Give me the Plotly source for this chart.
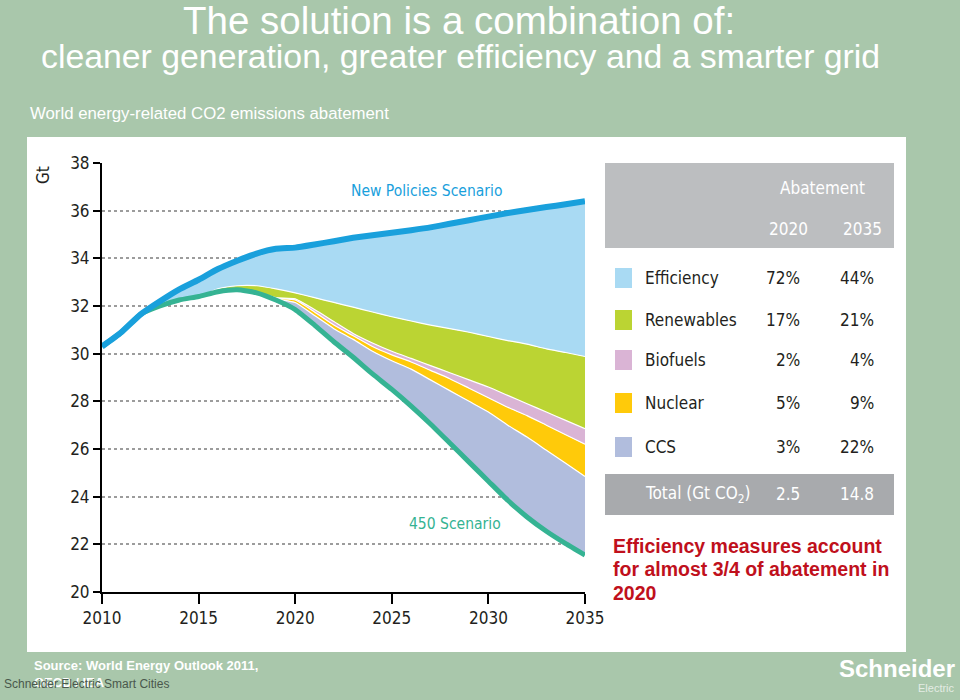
import plotly.graph_objects as go

W, H = 960, 700

# ---------------- data (Gt CO2) ----------------
years = list(range(2010, 2036))
new_policies = [30.3, 30.9, 31.65, 32.2, 32.7, 33.1, 33.55, 33.9, 34.2, 34.4, 34.45, 34.58, 34.72,
                34.86, 34.97, 35.07, 35.18, 35.3, 35.45, 35.6, 35.75, 35.9, 36.03, 36.15, 36.27, 36.4]
renewables_top = [30.3, 30.9, 31.65, 32.0, 32.25, 32.4, 32.72, 32.85, 32.85, 32.72, 32.55, 32.35, 32.15,
                  31.95, 31.75, 31.55, 31.37, 31.2, 31.05, 30.9, 30.72, 30.55, 30.4, 30.2, 30.05, 29.88]
biofuels_top = [30.3, 30.9, 31.65, 32.0, 32.25, 32.4, 32.6, 32.68, 32.58, 32.35, 32.3, 31.85, 31.35,
                30.85, 30.45, 30.1, 29.8, 29.5, 29.2, 28.9, 28.6, 28.25, 27.9, 27.55, 27.2, 26.85]
nuclear_top = [30.3, 30.9, 31.65, 32.0, 32.25, 32.4, 32.6, 32.68, 32.57, 32.32, 32.25, 31.75, 31.2,
               30.75, 30.3, 29.95, 29.65, 29.3, 28.95, 28.55, 28.15, 27.75, 27.4, 27.0, 26.6, 26.2]
ccs_top = [30.3, 30.9, 31.65, 32.0, 32.25, 32.4, 32.6, 32.68, 32.56, 32.3, 32.15, 31.6, 31.05,
           30.6, 30.1, 29.7, 29.35, 28.9, 28.45, 28.0, 27.55, 27.0, 26.5, 25.95, 25.4, 24.85]
scenario_450 = [30.3, 30.9, 31.65, 32.0, 32.25, 32.4, 32.6, 32.68, 32.55, 32.25, 31.85, 31.2, 30.5,
                29.85, 29.15, 28.5, 27.8, 27.05, 26.25, 25.45, 24.65, 23.85, 23.15, 22.55, 22.03, 21.55]

y_ticks = list(range(20, 39, 2))
x_ticks = [2010, 2015, 2020, 2025, 2030, 2035]

measures = ["Efficiency", "Renewables", "Biofuels", "Nuclear", "CCS"]
share_2020 = ["72%", "17%", "2%", "5%", "3%"]
share_2035 = ["44%", "21%", "4%", "9%", "22%"]
total_2020 = "2.5"
total_2035 = "14.8"

# ---------------- styles ----------------
BG = "#a9c7ab"
C_EFF = "#a9daf3"
C_REN = "#bbd433"
C_BIO = "#dab4d5"
C_NUC = "#ffca0a"
C_CCS = "#b1bddd"
C_NPS = "#19a0dc"
C_450 = "#35b393"
NARROW = "DejaVu Sans Condensed, Liberation Sans Narrow, sans-serif"
ARIAL = "Liberation Sans, Arial, sans-serif"
DARK = "#231f20"
SPL = dict(shape="spline", smoothing=0.5)


def px(x):
    return x / W


def py(y):
    return 1 - y / H


fig = go.Figure()

# stacked wedges between the two scenario lines
fig.add_trace(go.Scatter(x=years, y=scenario_450, mode="lines", line=dict(width=0, color=C_450, **SPL),
                         hoverinfo="skip", showlegend=False))
for vals, col in [(ccs_top, C_CCS), (nuclear_top, C_NUC), (biofuels_top, C_BIO),
                  (renewables_top, C_REN)]:
    fig.add_trace(go.Scatter(x=years, y=vals, mode="lines", fill="tonexty", fillcolor=col,
                             line=dict(width=1.2, color="white", **SPL), showlegend=False))
fig.add_trace(go.Scatter(x=years, y=new_policies, mode="lines", fill="tonexty", fillcolor=C_EFF,
                         line=dict(width=0, color=C_EFF, **SPL), showlegend=False))
# scenario lines
fig.add_trace(go.Scatter(x=years, y=scenario_450, mode="lines",
                         line=dict(width=5, color=C_450, **SPL), showlegend=False))
fig.add_trace(go.Scatter(x=years, y=new_policies, mode="lines",
                         line=dict(width=6, color=C_NPS, **SPL), showlegend=False))

shapes = [
    # white panel
    dict(type="rect", xref="paper", yref="paper", x0=px(27), x1=px(906), y0=py(652), y1=py(137),
         fillcolor="white", line=dict(width=0), layer="below"),
    # table header band
    dict(type="rect", xref="paper", yref="paper", x0=px(605), x1=px(894), y0=py(248), y1=py(163),
         fillcolor="#bcbec0", line=dict(width=0), layer="below"),
    # total band
    dict(type="rect", xref="paper", yref="paper", x0=px(605), x1=px(894), y0=py(515), y1=py(474),
         fillcolor="#a8aaad", line=dict(width=0), layer="below"),
]
row_y = [278, 320, 360, 403, 447]
sq_cols = [C_EFF, C_REN, C_BIO, C_NUC, C_CCS]
for ry, col in zip(row_y, sq_cols):
    shapes.append(dict(type="rect", xref="paper", yref="paper", x0=px(615), x1=px(632),
                       y0=py(ry + 10), y1=py(ry - 10), fillcolor=col, line=dict(width=0)))

ann = []


def text(x, y, s, size, color, family=ARIAL, xanchor="left", textangle=0):
    ann.append(dict(x=px(x), y=py(y), xref="paper", yref="paper", text=s, showarrow=False,
                    xanchor=xanchor, yanchor="middle", textangle=textangle,
                    font=dict(size=size, color=color, family=family)))


# titles
text(459, 20, "The solution is a combination of:", 38.5, "white", xanchor="center")
text(460, 56, "cleaner generation, greater efficiency and a smarter grid", 33.8, "white", xanchor="center")
text(28, 113, "World energy-related CO2 emissions abatement", 16.8, "white")

# chart labels
text(43, 175, "Gt", 17, DARK, NARROW, xanchor="center", textangle=-90)
text(426, 191, "New Policies Scenario", 15.5, C_NPS, NARROW, xanchor="center")
text(455, 524, "450 Scenario", 15.5, C_450, NARROW, xanchor="center")

# table
text(822, 188, "Abatement", 17, "white", NARROW, xanchor="center")
text(788, 229, "2020", 17, "white", NARROW, xanchor="center")
text(862, 229, "2035", 17, "white", NARROW, xanchor="center")
for ry, m, a, b in zip(row_y, measures, share_2020, share_2035):
    text(643, ry, m, 17, DARK, NARROW)
    text(802, ry, a, 17, DARK, NARROW, xanchor="right")
    text(876, ry, b, 17, DARK, NARROW, xanchor="right")
text(643, 494, "Total (Gt CO<sub>2</sub>)", 17, "white", NARROW)
text(802, 494, total_2020, 17, "white", NARROW, xanchor="right")
text(876, 494, total_2035, 17, "white", NARROW, xanchor="right")

# red note
RED = "#c0101c"
for yy, s in [(546, "Efficiency measures account"), (569, "for almost 3/4 of abatement in"),
              (593, "2020")]:
    text(611, yy, "<b>" + s + "</b>", 19.5, RED, ARIAL)

# footer
text(32, 665, "<b>Source: World Energy Outlook 2011,</b>", 13, "white")
text(32, 682, "<b>OECD / IEA</b>", 13, "white")
text(2, 684, "Schneider Electric Smart Cities", 12, "#4a584c")
text(957, 668, "<b>Schneider</b>", 24, "white", xanchor="right")
text(957, 688, "Electric", 11, "#e4ece4", xanchor="right")

fig.update_layout(
    width=W, height=H, autosize=False,
    margin=dict(l=0, r=0, t=0, b=0, pad=0, autoexpand=False),
    paper_bgcolor=BG, plot_bgcolor="white",
    shapes=shapes, annotations=ann, showlegend=False,
    xaxis=dict(domain=[px(102), px(585)], range=[2010, 2035], tickvals=x_ticks,
               showgrid=False, zeroline=False, showline=True, linecolor="black", linewidth=2,
               ticks="outside", ticklen=10, tickwidth=2, tickcolor="black", automargin=False,
               tickfont=dict(family=NARROW, size=17, color=DARK)),
    yaxis=dict(domain=[py(592), py(163)], range=[20, 38], tickvals=y_ticks,
               showgrid=True, gridcolor="#9c9c9c", gridwidth=1.5, griddash="dot",
               zeroline=False, showline=True, linecolor="black", linewidth=2,
               ticks="outside", ticklen=7, tickwidth=2, tickcolor="black", automargin=False,
               tickfont=dict(family=NARROW, size=17, color=DARK)),
)

fig.write_html(
    "out.html",
    config={"displayModeBar": False},
    post_script="document.body.style.margin='0';document.body.style.overflow='hidden';"
                "document.body.style.background='" + BG + "';",
)
